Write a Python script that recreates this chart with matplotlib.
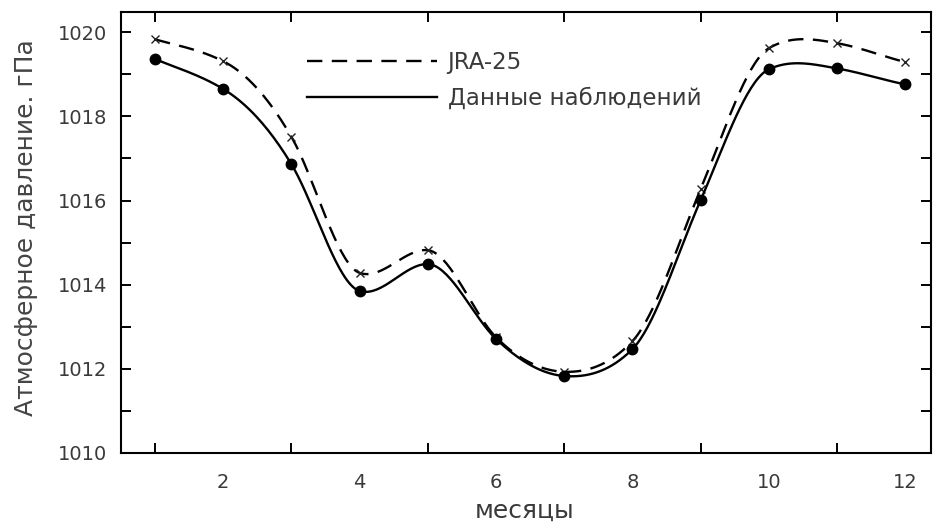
import numpy as np
import matplotlib
matplotlib.use("Agg")
import matplotlib.pyplot as plt

plt.rcParams['font.family'] = ['DejaVu Sans']

months = [1, 2, 3, 4, 5, 6, 7, 8, 9, 10, 11, 12]
jra25 = [1019.83, 1019.31, 1017.51, 1014.28, 1014.82, 1012.75,
         1011.93, 1012.66, 1016.27, 1019.62, 1019.74, 1019.29]
observed = [1019.36, 1018.65, 1016.86, 1013.85, 1014.49, 1012.71,
            1011.83, 1012.47, 1016.01, 1019.12, 1019.14, 1018.76]
label_jra = "JRA-25"
label_obs = "Данные наблюдений"


def hermite(x, y, m, xs):
    idx = np.clip(np.searchsorted(x, xs) - 1, 0, len(x) - 2)
    h = x[idx + 1] - x[idx]
    t = (xs - x[idx]) / h
    return ((2 * t**3 - 3 * t**2 + 1) * y[idx] + (t**3 - 2 * t**2 + t) * h * m[idx]
            + (-2 * t**3 + 3 * t**2) * y[idx + 1] + (t**3 - t**2) * h * m[idx + 1])


def smooth(x, y, n=400):
    # curve drawn between the points: mean of a natural cubic spline and pchip
    x = np.asarray(x, float)
    y = np.asarray(y, float)
    k = len(x)
    h = np.diff(x)
    d = np.diff(y) / h
    # natural spline slopes
    A = np.zeros((k, k))
    b = np.zeros(k)
    A[0, 0], A[0, 1], b[0] = 2, 1, 3 * d[0]
    A[-1, -2], A[-1, -1], b[-1] = 1, 2, 3 * d[-1]
    for i in range(1, k - 1):
        A[i, i - 1] = h[i]
        A[i, i] = 2 * (h[i - 1] + h[i])
        A[i, i + 1] = h[i - 1]
        b[i] = 3 * (h[i] * d[i - 1] + h[i - 1] * d[i])
    m_nat = np.linalg.solve(A, b)
    # pchip slopes
    m_pc = np.zeros(k)
    m_pc[0], m_pc[-1] = d[0], d[-1]
    for i in range(1, k - 1):
        if d[i - 1] * d[i] > 0:
            w1 = 2 * h[i] + h[i - 1]
            w2 = h[i] + 2 * h[i - 1]
            m_pc[i] = (w1 + w2) / (w1 / d[i - 1] + w2 / d[i])
    xs = np.linspace(x[0], x[-1], n)
    ys = 0.5 * (hermite(x, y, m_nat, xs) + hermite(x, y, m_pc, xs))
    return xs, ys


fig = plt.figure(figsize=(9.33, 5.24), dpi=100)
ax = fig.add_axes([0.1297, 0.1355, 0.8683, 0.8415])

xs, ys = smooth(months, jra25)
ax.plot(xs, ys, color='black', lw=1.7, dashes=(6.5, 4), label=label_jra)
ax.plot(months, jra25, ls='none', marker='x', ms=6, mew=1.0, color='#222222')

xs, ys = smooth(months, observed)
ax.plot(xs, ys, color='black', lw=1.7, label=label_obs)
ax.plot(months, observed, ls='none', marker='o', ms=7.5, color='black')

ax.set_xlim(0.5, 12.38)
ax.set_ylim(1010, 1020.48)
ax.set_xticks(months, minor=True)
ax.set_xticks([2, 4, 6, 8, 10, 12])
ax.set_yticks([1010, 1012, 1014, 1016, 1018, 1020])
ax.set_yticks(np.arange(1011, 1020, 2), minor=True)

text_col = '#3a3a3a'
ax.tick_params(which='both', direction='in', top=True, right=True,
               width=1.4, color='black')
ax.tick_params(which='major', length=7, labelsize=14, labelcolor=text_col)
ax.tick_params(axis='y', which='major', pad=10)
ax.tick_params(axis='x', which='major', length=0, pad=14.5)
ax.tick_params(which='minor', length=7)
for s in ax.spines.values():
    s.set_linewidth(1.5)

ax.set_xlabel("месяцы", fontsize=18, color=text_col)
ax.xaxis.set_label_coords(0.498, -0.103)
ax.set_ylabel("Атмосферное давление. гПа", fontsize=18, color='#444444')
ax.yaxis.set_label_coords(-0.103, 0.51)

ax.legend(loc='upper left', bbox_to_anchor=(0.215, 0.937), frameon=False,
          fontsize=16.5, handlelength=5.7, handletextpad=0.45, borderpad=0,
          labelspacing=0.55, labelcolor=text_col)

fig.savefig("out.png", dpi=100)
